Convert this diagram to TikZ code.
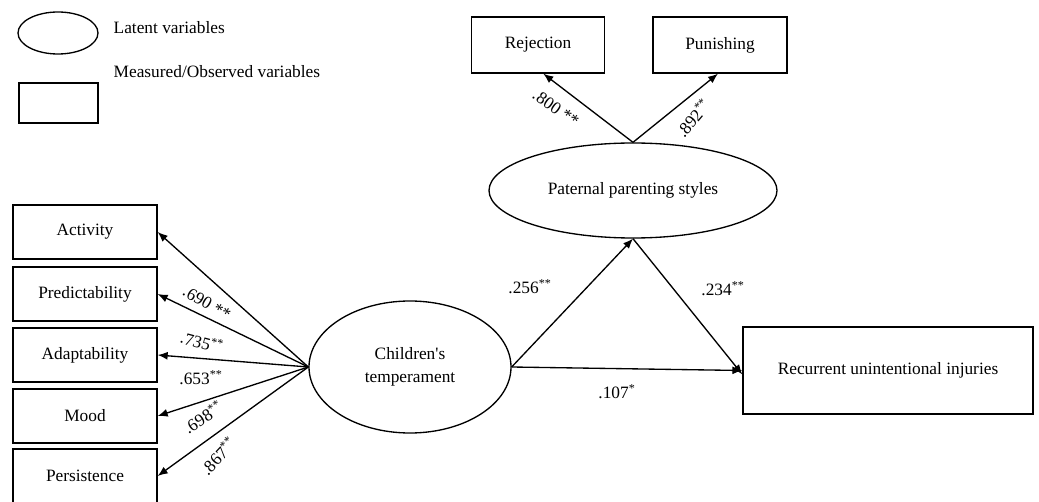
\documentclass[tikz,border=0pt]{standalone}
\usepackage{fontspec}
\setmainfont{Liberation Serif}[Ligatures=TeXOff]
\usetikzlibrary{shapes.geometric,arrows.meta}

\tikzset{every picture/.style={line width=1pt}}
\tikzset{
  latent/.style={draw,ellipse,inner sep=0pt,align=center},
  observed/.style={draw,rectangle,inner sep=0pt,align=center},
  path/.style={-{Latex[length=7.5pt,width=6pt]}},
  coef/.style={inner sep=0pt}
}

\begin{document}
\begin{tikzpicture}[x=0.75pt,y=0.75pt,yscale=-1,xscale=1,font=\fontsize{13}{17}\selectfont]
\useasboundingbox (0,0) rectangle (1039,502);

%Shape: Ellipse [legend]
\node [latent,minimum width=60pt,minimum height=31.5pt] (keylat) at (58,33) {};
%Shape: Rectangle [legend]
\node [observed,minimum width=59.25pt,minimum height=30pt] (keyobs) at (58.5,103) {};
% Text Node
\node [anchor=west,inner sep=0.75pt] (keylattxt) at (112,28) {Latent variables};
% Text Node
\node [anchor=west,inner sep=0.75pt] (keyobstxt) at (112,72) {Measured/Observed variables};

%Shape: Rectangle [indicators of temperament]
\node [observed,minimum width=108pt,minimum height=40.5pt] (act) at (85,232) {Activity};
\node [observed,minimum width=108pt,minimum height=40.5pt] (pred) at (85,294) {Predictability};
\node [observed,minimum width=108pt,minimum height=40.5pt] (adapt) at (85,355) {Adaptability};
\node [observed,minimum width=108pt,minimum height=40.5pt] (mood) at (85,416) {Mood};
\node [observed,minimum width=108pt,minimum height=40.5pt] (pers) at (85,476) {Persistence};

%Shape: Ellipse
\node [latent,minimum width=151.5pt,minimum height=99pt] (temp) at (410,367) {Children's\\temperament};
%Shape: Ellipse
\node [latent,minimum width=216pt,minimum height=71.25pt] (pat) at (633,190.5) {Paternal parenting styles};

%Shape: Rectangle
\node [observed,minimum width=100pt,minimum height=42pt] (rej) at (538,45) {Rejection};
\node [observed,minimum width=100.5pt,minimum height=42pt] (pun) at (720,45) {Punishing};
%Shape: Rectangle
\node [observed,minimum width=217.5pt,minimum height=65.25pt] (rec) at (888,370.5) {Recurrent unintentional injuries};

% loadings
\draw [path] (temp.west) -- (act.east);
\draw [path] (temp.west) -- (pred.east);
\draw [path] (temp.west) -- (adapt.east);
\draw [path] (temp.west) -- (mood.east);
\draw [path] (temp.west) -- (pers.east);
\draw [path] (pat.north) -- ([xshift=4pt]rej.south);
\draw [path] (pat.north) -- ([xshift=-1.5pt]pun.south);

% structural paths
\draw [path] (temp.east) -- (pat.south);
\draw [path] (pat.south) -- ([yshift=3pt]rec.west);
\draw [path] (temp.east) -- (rec.west);

% Text Node
\node [coef,rotate=-30] (l1) at (207,303) {.690 **};
\node [coef,rotate=-15] (l2) at (202,342) {.735\textsuperscript{**}};
\node [coef] (l3) at (201,378) {.653\textsuperscript{**}};
\node [coef,rotate=33] (l4) at (203,417) {.698\textsuperscript{**}};
\node [coef,rotate=47] (l5) at (218,456) {.867\textsuperscript{**}};
\node [coef,rotate=-35] (l6) at (556,108) {.800 **};
\node [coef,rotate=50] (l7) at (693,118) {.892\textsuperscript{**}};
\node [coef] (l8) at (530,287) {.256\textsuperscript{**}};
\node [coef] (l9) at (723,289) {.234\textsuperscript{**}};
\node [coef] (l10) at (617,392) {.107\textsuperscript{*}};

\end{tikzpicture}
\end{document}
